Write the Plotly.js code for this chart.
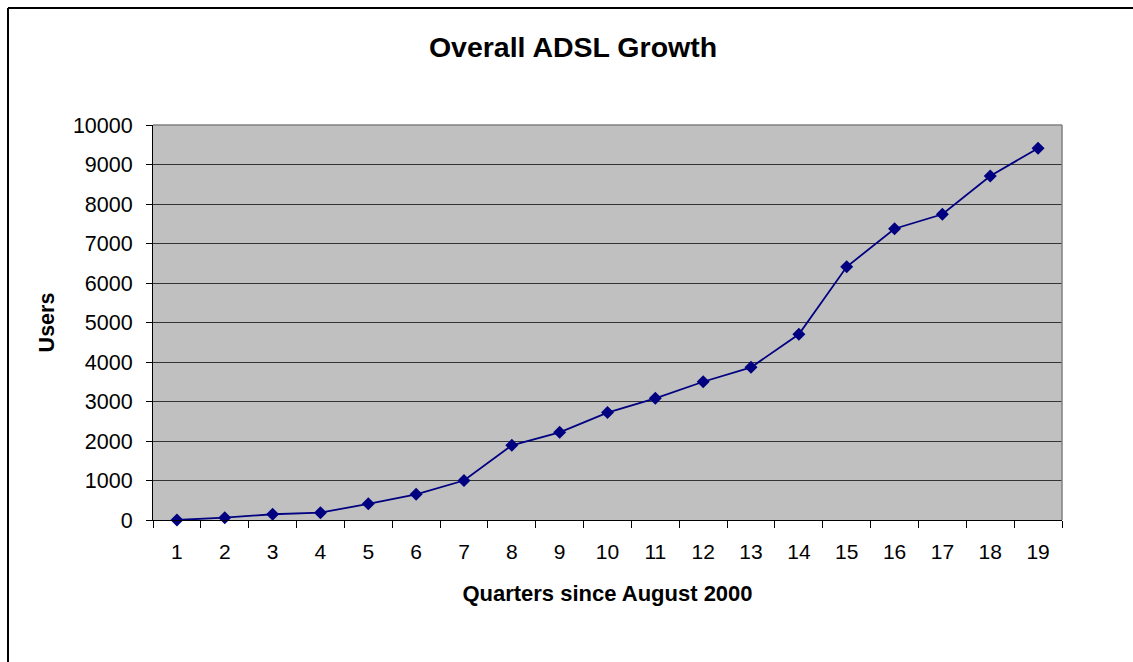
<!DOCTYPE html>
<html>
<head>
<meta charset="utf-8">
<script src="https://cdn.plot.ly/plotly-3.0.1.min.js"></script>
<style>
  html, body { margin: 0; padding: 0; background: #fff; }
  #chart { width: 1133px; height: 662px; }
</style>
</head>
<body>
<div id="chart"></div>
<script>
// Quarter index since August 2000
const quarters = ["1","2","3","4","5","6","7","8","9","10","11","12","13","14","15","16","17","18","19"];
// ADSL users at each quarter
const users = [0, 60, 145, 185, 410, 650, 1000, 1890, 2220, 2720, 3080, 3500, 3865, 4700, 6410, 7375, 7740, 8710, 9410];

const yTicks = [0, 1000, 2000, 3000, 4000, 5000, 6000, 7000, 8000, 9000, 10000];

const W = 1133, H = 662;
const M = { l: 153, r: 71, t: 125, b: 142 };
const pw = W - M.l - M.r, ph = H - M.t - M.b;

const trace = {
  x: quarters,
  y: users,
  type: "scatter",
  mode: "lines+markers",
  line: { color: "#000080", width: 1.8 },
  marker: { symbol: "diamond", size: 10, color: "#000080" },
  hoverinfo: "x+y",
  cliponaxis: false
};

const layout = {
  width: W,
  height: H,
  margin: M,
  paper_bgcolor: "#ffffff",
  plot_bgcolor: "#c0c0c0",
  font: { family: "Liberation Sans, Arial, sans-serif", color: "#000" },
  showlegend: false,
  title: {
    text: "<b>Overall ADSL Growth</b>",
    font: { size: 28.5, color: "#000" },
    x: 573 / W, xref: "container", xanchor: "center",
    y: 1 - 47 / H, yref: "container", yanchor: "middle"
  },
  xaxis: {
    type: "category",
    range: [-0.5, quarters.length - 0.5],
    tickson: "boundaries",
    ticks: "outside",
    ticklen: 7,
    tickcolor: "#000",
    ticklabelstandoff: 13,
    showline: true,
    linecolor: "#000",
    linewidth: 1,
    showgrid: false,
    zeroline: false,
    tickfont: { size: 21 },
    title: { text: "<b>Quarters since August 2000</b>", font: { size: 22 }, standoff: 23 }
  },
  yaxis: {
    range: [0, 10000],
    tickvals: yTicks,
    ticktext: yTicks.map(String),
    ticks: "outside",
    ticklen: 6,
    tickcolor: "#000",
    ticklabelstandoff: 9,
    showline: true,
    linecolor: "#000",
    linewidth: 1,
    showgrid: true,
    gridcolor: "#333333",
    gridwidth: 1,
    zeroline: false,
    tickfont: { size: 21.5 },
    title: { text: "<b>Users</b>", font: { size: 21.5 }, standoff: 12 }
  },
  shapes: [
    // plot area border, top and right
    { type: "line", xref: "paper", yref: "paper", x0: 0, x1: 1, y0: 1, y1: 1,
      line: { color: "#808080", width: 1.5 } },
    { type: "line", xref: "paper", yref: "paper", x0: 1, x1: 1, y0: 0, y1: 1,
      line: { color: "#808080", width: 1.5 } },
    // chart frame
    { type: "line", xref: "paper", yref: "paper",
      x0: (8 - M.l) / pw, x1: (8 - M.l) / pw, y0: 1 + (M.t - 8) / ph, y1: -(M.b + 10) / ph,
      line: { color: "#000", width: 2 } },
    { type: "line", xref: "paper", yref: "paper",
      x0: (8 - M.l) / pw, x1: (W + 10 - M.l) / pw, y0: 1 + (M.t - 8) / ph, y1: 1 + (M.t - 8) / ph,
      line: { color: "#000", width: 2 } }
  ]
};

Plotly.newPlot("chart", [trace], layout, { displayModeBar: false, staticPlot: true });
</script>
</body>
</html>
